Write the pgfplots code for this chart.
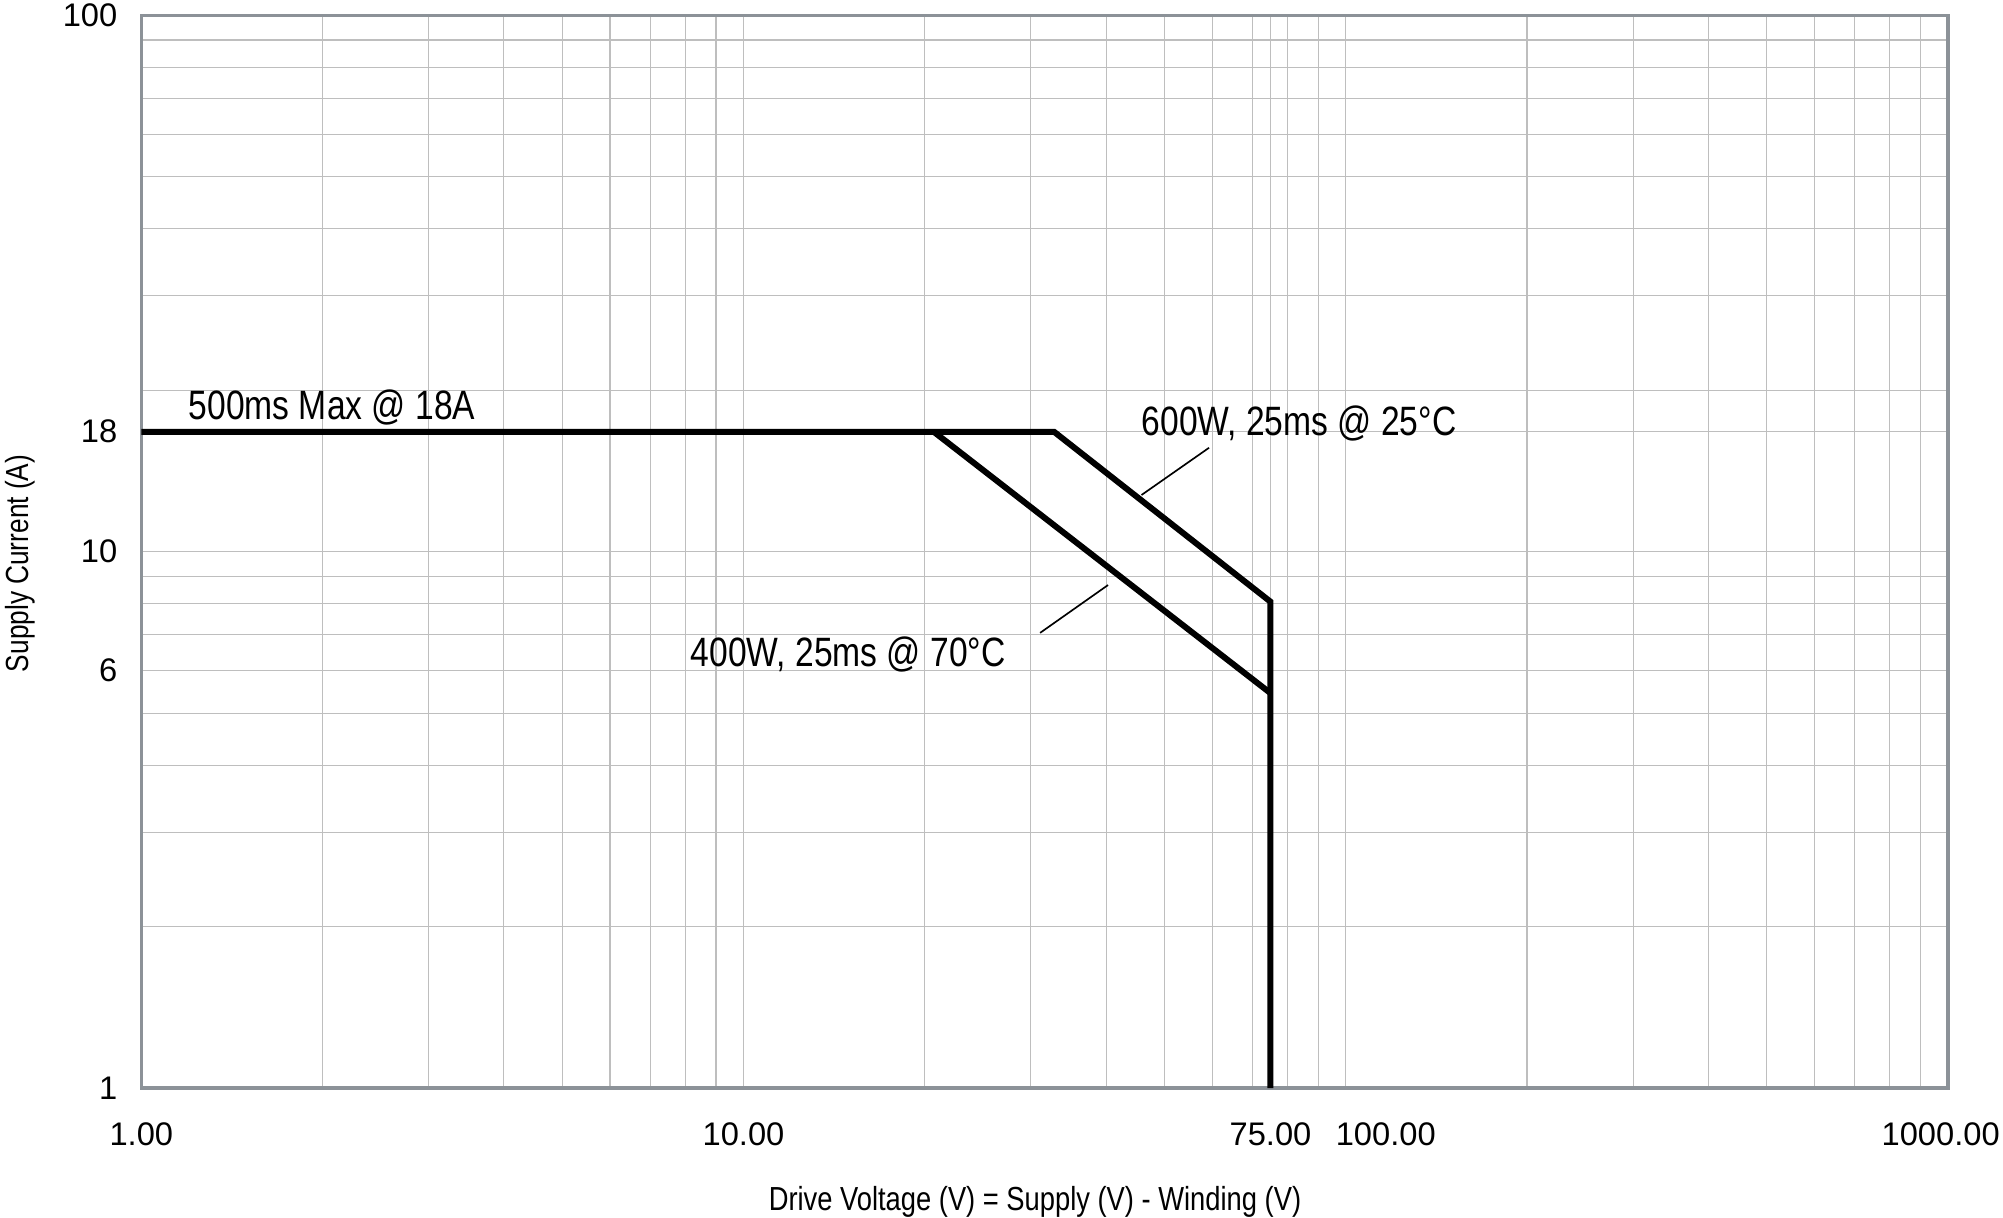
\documentclass[border=0pt]{standalone}
\usepackage{pgfplots}
\pgfplotsset{compat=1.18}
\usepackage{fontspec}
\setmainfont{Liberation Sans}[FakeStretch=0.82]
\newfontfamily\tickfont{Liberation Sans}
\definecolor{framegray}{RGB}{140,146,152}
\definecolor{gridgray}{RGB}{190,190,190}

\begin{document}
\begin{tikzpicture}
\begin{axis}[
    scale only axis,
    width=542pt, height=321.8pt,
    xmode=log, ymode=log,
    xmin=1, xmax=1000, ymin=1, ymax=100,
    clip=false,
    xtick={1,10,75,100,1000},
    xticklabels={1.00,10.00,75.00,\makebox[0pt][l]{\hspace{-3pt}100.00},\makebox[0pt][r]{1000.00\hspace{-15.5pt}}},
    minor xtick={2,3,4,5,6,7,8,9,20,30,40,50,60,70,80,90,200,300,400,500,600,700,800,900},
    ytick={1,6,10,16.74,100},
    yticklabels={1,6,10,18,100},
    minor ytick={2,3,4,5,7,8,9,20,30,40,50,60,70,80,90},
    grid=both,
    major grid style={gridgray, line width=0.35pt},
    minor grid style={gridgray, line width=0.35pt},
    major tick length=0pt, minor tick length=0pt,
    tick style={draw=none},
    axis line style={framegray, line width=1pt},
    xticklabel style={font=\tickfont\fontsize{9.8}{11}\selectfont, anchor=north, inner sep=0pt, yshift=-10.2pt},
    yticklabel style={font=\tickfont\fontsize{9.8}{11}\selectfont, anchor=east, inner sep=0pt, xshift=-7pt},
]
% limit curves
\addplot[black, line width=1.8pt, line join=miter] coordinates {
    (1,16.74) (32.78,16.74) (75,8.07) (75,1)
};
\addplot[black, line width=1.8pt, line join=miter] coordinates {
    (20.69,16.74) (75,5.45)
};
% leader lines
\addplot[black, line width=0.5pt] coordinates {(59.3,15.63) (45.8,12.76)};
\addplot[black, line width=0.5pt] coordinates {(40.3,8.67) (31.08,7.06)};

\node[anchor=base west, inner sep=0pt, font=\fontsize{12.3}{14}\selectfont] at (axis cs:1.196,17.68) {500ms Max @ 18A};
\node[anchor=base west, inner sep=0pt, font=\fontsize{12.3}{14}\selectfont] at (axis cs:45.7,16.44) {600W, 25ms @ 25°C};
\node[anchor=base west, inner sep=0pt, font=\fontsize{12.3}{14}\selectfont] at (axis cs:8.15,6.12) {400W, 25ms @ 70°C};

\node[anchor=base, inner sep=0pt, font=\fontsize{10}{12}\selectfont] at ([xshift=-2.9pt,yshift=-36.8pt]axis description cs:0.5,0) {Drive Voltage (V) = Supply (V) - Winding (V)};
\node[rotate=90, anchor=base, inner sep=0pt, font=\fontsize{9.6}{11}\selectfont] at ([xshift=-33.9pt,yshift=-3.5pt]axis description cs:0,0.5) {Supply Current (A)};
\end{axis}
\pgfresetboundingbox
\useasboundingbox ([xshift=-42.39pt,yshift=-38.7pt]current axis.south west) rectangle ([xshift=16.5pt,yshift=4.62pt]current axis.north east);
\end{tikzpicture}
\end{document}
